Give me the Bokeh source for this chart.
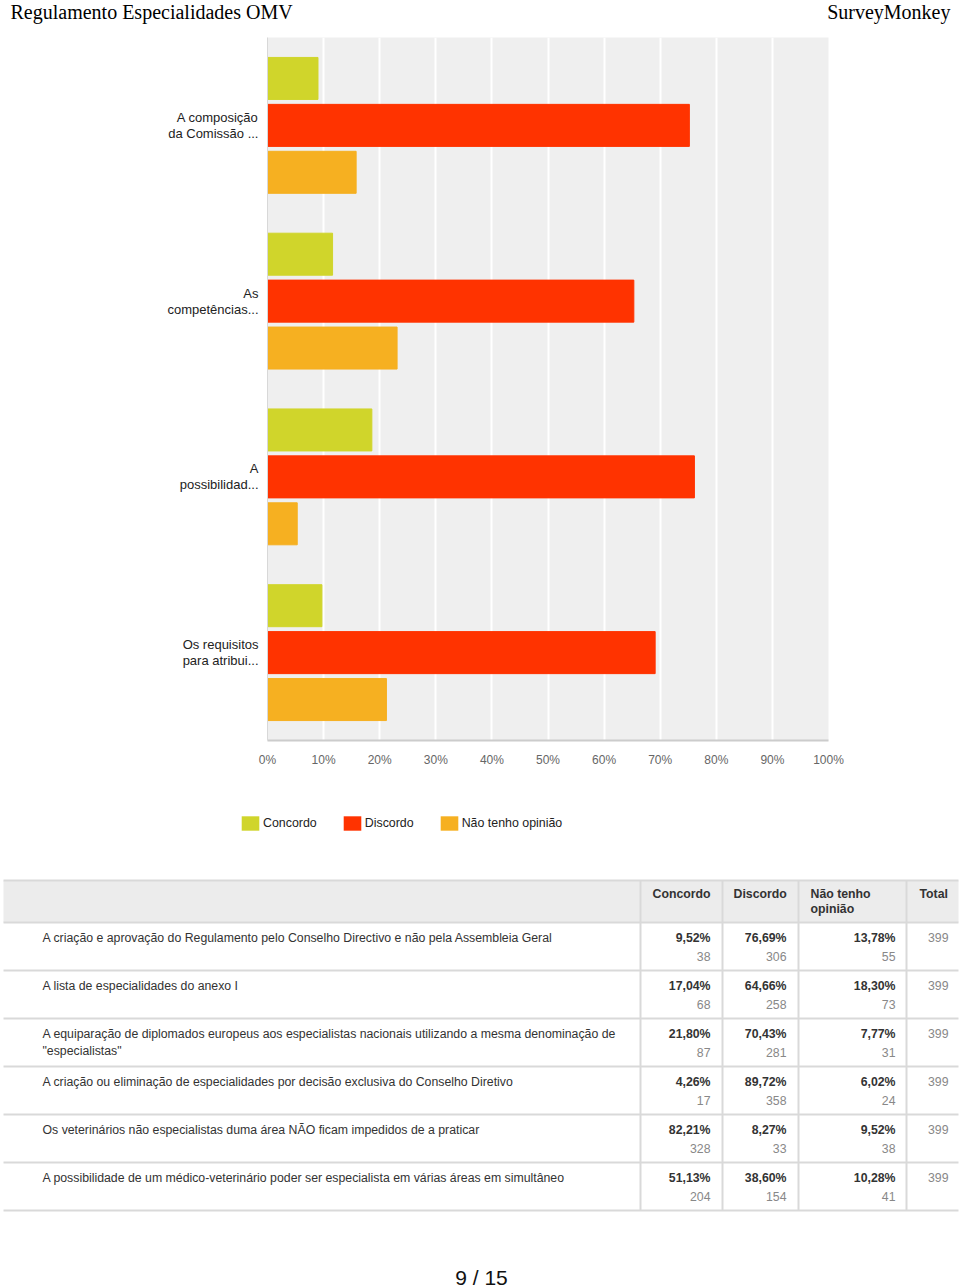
from bokeh.plotting import figure
from bokeh.models import (ColumnDataSource, FactorRange, Range1d, FixedTicker,
                          Legend, LegendItem)
from bokeh.transform import dodge
from bokeh.core.properties import value
from bokeh.embed import file_html
from bokeh.resources import INLINE

# ---------------- data ----------------
categories = ["A composição\nda Comissão ...", "As\ncompetências...",
              "A\npossibilidad...", "Os requisitos\npara atribui..."]
concordo = [9.0, 11.6, 18.6, 9.7]
discordo = [75.2, 65.3, 76.1, 69.1]
nao_tenho = [15.8, 23.1, 5.3, 21.2]
series_names = ["Concordo", "Discordo", "Não tenho opinião"]
series_colors = ["#d0d52b", "#ff3300", "#f6b021"]
tick_values = [0, 10, 20, 30, 40, 50, 60, 70, 80, 90, 100]
tick_labels = ["0%", "10%", "20%", "30%", "40%", "50%", "60%", "70%", "80%", "90%", "100%"]

questions = [
    "A criação e aprovação do Regulamento pelo Conselho Directivo e não pela Assembleia Geral",
    "A lista de especialidades do anexo I",
    "A equiparação de diplomados europeus aos especialistas nacionais utilizando a mesma denominação de\n\"especialistas\"",
    "A criação ou eliminação de especialidades por decisão exclusiva do Conselho Diretivo",
    "Os veterinários não especialistas duma área NÃO ficam impedidos de a praticar",
    "A possibilidade de um médico-veterinário poder ser especialista em várias áreas em simultâneo",
]
pct_concordo = [9.52, 17.04, 21.80, 4.26, 82.21, 51.13]
pct_discordo = [76.69, 64.66, 70.43, 89.72, 8.27, 38.60]
pct_nao = [13.78, 18.30, 7.77, 6.02, 9.52, 10.28]
n_concordo = [38, 68, 87, 17, 328, 204]
n_discordo = [306, 258, 281, 358, 33, 154]
n_nao = [55, 73, 31, 24, 38, 41]
totals = [399, 399, 399, 399, 399, 399]
table_headers = ["Concordo", "Discordo", "Não tenho\nopinião", "Total"]

header_left = "Regulamento Especialidades OMV"
header_right = "SurveyMonkey"
page_label = "9 / 15"

FONT = value("Liberation Sans")
W = 960
TFS = "12.3px"

# ---------------- header ----------------
hdr = figure(width=W, height=37, x_range=Range1d(0, 960), y_range=Range1d(37, 0),
             output_backend="svg", toolbar_location=None, min_border=0)
hdr.axis.visible = False
hdr.grid.visible = False
hdr.outline_line_color = None
hdr.text(x=[10], y=[11], text=[header_left], text_font=value("Liberation Serif"),
         text_font_size="20px", text_color="#000000", text_baseline="middle")
hdr.text(x=[950], y=[11], text=[header_right], text_font=value("Liberation Serif"),
         text_font_size="20px", text_color="#000000", text_baseline="middle",
         text_align="right")

# ---------------- bar chart ----------------
src = ColumnDataSource(dict(cat=categories, concordo=concordo,
                            discordo=discordo, nao=nao_tenho))
p = figure(width=W, height=753, x_range=Range1d(0, 100),
           y_range=FactorRange(factors=categories[::-1]),
           output_backend="svg", toolbar_location=None,
           min_border_left=267, min_border_right=132, min_border_top=0,
           min_border_bottom=50)
p.background_fill_color = "#efefef"
p.outline_line_color = None
off = 0.267
bh = 0.239
p.hbar(y=dodge("cat", off, range=p.y_range), left=0, right="concordo", height=bh,
       source=src, color=series_colors[0])
p.hbar(y=dodge("cat", 0, range=p.y_range), left=0, right="discordo", height=bh,
       source=src, color=series_colors[1])
p.hbar(y=dodge("cat", -off, range=p.y_range), left=0, right="nao", height=bh,
       source=src, color=series_colors[2])

p.xgrid.ticker = FixedTicker(ticks=tick_values)
p.xgrid.grid_line_color = "#ffffff"
p.xgrid.grid_line_width = 2
p.ygrid.grid_line_color = None

p.xaxis.ticker = FixedTicker(ticks=tick_values)
p.xaxis.major_label_overrides = {v: l for v, l in zip(tick_values, tick_labels)}
p.xaxis.axis_line_color = "#cccccc"
p.xaxis.axis_line_width = 2
p.xaxis.major_tick_line_color = None
p.xaxis.minor_tick_line_color = None
p.xaxis.major_tick_out = 0
p.xaxis.major_tick_in = 0
p.xaxis.major_label_standoff = 12
p.xaxis.major_label_text_font = "Liberation Sans"
p.xaxis.major_label_text_font_size = "12px"
p.xaxis.major_label_text_color = "#666666"

p.yaxis.axis_line_color = "#d8d8d8"
p.yaxis.major_tick_line_color = None
p.yaxis.minor_tick_line_color = None
p.yaxis.major_tick_out = 0
p.yaxis.major_tick_in = 0
p.yaxis.major_label_standoff = 9
p.yaxis.major_label_text_font = "Liberation Sans"
p.yaxis.major_label_text_font_size = "13px"
p.yaxis.major_label_text_color = "#222222"
p.yaxis.major_label_text_line_height = 1.07

# ---------------- legend + table + footer ----------------
low = figure(width=W, height=498, x_range=Range1d(0, 960), y_range=Range1d(1288, 790),
             output_backend="svg", toolbar_location=None, min_border=0)
low.axis.visible = False
low.grid.visible = False
low.outline_line_color = None

# legend swatch renderers (placed outside the visible range)
dummies = [low.quad(left=[0], right=[1], top=[0], bottom=[1], fill_color=c, line_color=None)
           for c in series_colors]
legend = Legend(items=[LegendItem(label=n, renderers=[r]) for n, r in zip(series_names, dummies)],
                orientation="horizontal", location=(239, 456), padding=0, margin=0,
                border_line_alpha=0, background_fill_alpha=0, label_standoff=2,
                glyph_width=22, glyph_height=18, spacing=24, label_height=18,
                label_text_font="Liberation Sans", label_text_font_size="12.4px",
                label_text_color="#222222", label_text_baseline="middle")
low.add_layout(legend)

t_left, t_right = 3, 958
hdr_top, hdr_bot = 880, 922
row_h = 48
col_edges = [640, 722, 798, 906]
nrows = len(questions)
row_bottoms = [hdr_bot + row_h * (i + 1) for i in range(nrows)]

low.quad(left=[t_left], right=[t_right], top=[hdr_top], bottom=[hdr_bot], fill_color="#ececec",
         line_color=None)
low.segment(x0=[t_left] * (nrows + 2), x1=[t_right] * (nrows + 2),
            y0=[hdr_top, hdr_bot] + row_bottoms, y1=[hdr_top, hdr_bot] + row_bottoms,
            line_color="#d9d9d9", line_width=2)
low.segment(x0=col_edges, x1=col_edges, y0=[hdr_top] * 4, y1=[row_bottoms[-1]] * 4,
            line_color="#d9d9d9", line_width=2)

hx = [652, 733, 810, 919]
low.text(x=hx, y=[hdr_top + 6] * 4, text=table_headers, text_font=FONT, text_font_size=TFS,
         text_font_style="bold", text_color="#333333", text_baseline="top", text_line_height=1.11)

row_tops = [hdr_bot + row_h * i for i in range(nrows)]
low.text(x=[42] * nrows, y=[t + 8 for t in row_tops], text=questions, text_font=FONT,
         text_font_size=TFS, text_color="#333333", text_baseline="top", text_line_height=1.22)

def fmt(v):
    return f"{v:.2f}%".replace(".", ",")

for xr, pcts, ns in [(710, pct_concordo, n_concordo), (786, pct_discordo, n_discordo),
                     (895, pct_nao, n_nao)]:
    low.text(x=[xr] * nrows, y=[t + 15 for t in row_tops], text=[fmt(v) for v in pcts],
             text_font=FONT, text_font_size=TFS, text_font_style="bold",
             text_color="#333333", text_align="right", text_baseline="middle")
    low.text(x=[xr] * nrows, y=[t + 34 for t in row_tops], text=[str(n) for n in ns],
             text_font=FONT, text_font_size=TFS, text_color="#888888",
             text_align="right", text_baseline="middle")
low.text(x=[948] * nrows, y=[t + 15 for t in row_tops], text=[str(n) for n in totals],
         text_font=FONT, text_font_size=TFS, text_color="#888888",
         text_align="right", text_baseline="middle")

low.text(x=[481], y=[1277], text=[page_label], text_font=FONT, text_font_size="21px",
         text_color="#111111", text_align="center", text_baseline="middle")

open("out.html", "w").write(file_html([hdr, p, low], INLINE))
